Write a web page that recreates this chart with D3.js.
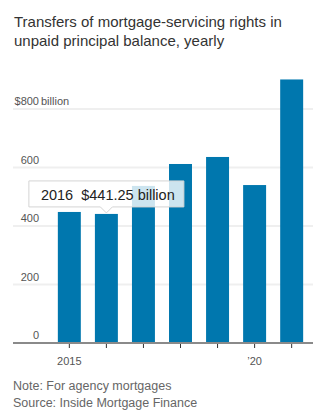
<!DOCTYPE html>
<html>
<head>
<meta charset="utf-8">
<script src="https://cdn.jsdelivr.net/npm/d3@7"></script>
<style>
  body { margin: 0; background: #fff; }
  svg { display: block; }
</style>
</head>
<body>
<div id="chart"></div>
<script>
// yearly transfers of MSRs, unpaid principal balance in $ billions
var years = [2015, 2016, 2017, 2018, 2019, 2020, 2021];
var balances = [448, 441.25, 537, 612, 636, 540, 901];
var yTicks = [0, 200, 400, 600, 800];
var xTickLabels = { 2015: "2015", 2020: "\u201920" };
var titleLines = ["Transfers of mortgage-servicing rights in", "unpaid principal balance, yearly"];
var footLines = ["Note: For agency mortgages", "Source: Inside Mortgage Finance"];
var highlightYear = 2016;

var width = 326,
    height = 420;

var barColor = "#0077ae",
    gridColor = "#efefef",
    axisColor = "#8a8a8a",
    textFont = "'Liberation Sans', Arial, sans-serif";

var svg = d3.select("#chart").append("svg")
    .attr("width", width)
    .attr("height", height);

var x = d3.scaleBand()
    .domain(years)
    .range([50.8, 310.2])
    .paddingInner(0.38)
    .paddingOuter(0.19);

var y = d3.scaleLinear()
    .domain([0, 800])
    .range([343, 109]);

// title
svg.append("g").selectAll("text")
    .data(titleLines)
    .enter().append("text")
    .attr("x", 14)
    .attr("y", function(d, i) { return 27 + i * 19; })
    .attr("font-family", textFont)
    .attr("font-size", 15)
    .attr("fill", "#333")
    .text(function(d) { return d; });

// gridlines (0 gets the axis line instead)
var grid = svg.append("g");
grid.selectAll("line")
    .data(yTicks.filter(function(d) { return d > 0; }))
    .enter().append("line")
    .attr("x1", 13)
    .attr("x2", 313)
    .attr("y1", function(d) { return y(d); })
    .attr("y2", function(d) { return y(d); })
    .attr("stroke", gridColor)
    .attr("stroke-width", 2);

// y labels sit above their gridline, number right-aligned
svg.append("g").selectAll("text")
    .data(yTicks)
    .enter().append("text")
    .attr("x", 39)
    .attr("y", function(d) { return y(d) - 4; })
    .attr("font-family", textFont)
    .attr("font-size", 11)
    .attr("fill", "#555")
    .attr("text-anchor", "end")
    .text(function(d) { return d === 800 ? "$" + d : d; });

svg.append("text")
    .attr("x", 41)
    .attr("y", y(800) - 4)
    .attr("font-family", textFont)
    .attr("font-size", 11)
    .attr("fill", "#555")
    .text("billion");

// bars
svg.append("g").selectAll("rect")
    .data(years)
    .enter().append("rect")
    .attr("x", function(d) { return x(d); })
    .attr("width", x.bandwidth())
    .attr("y", function(d, i) { return y(balances[i]); })
    .attr("height", function(d, i) { return y(0) - y(balances[i]); })
    .attr("fill", barColor);

// x axis
svg.append("line")
    .attr("x1", 13)
    .attr("x2", 313)
    .attr("y1", y(0))
    .attr("y2", y(0))
    .attr("stroke", axisColor)
    .attr("stroke-width", 2);

var xAxis = svg.append("g")
    .attr("transform", "translate(0," + (y(0) + 1) + ")")
    .call(d3.axisBottom(x)
        .tickSize(4)
        .tickFormat(function(d) { return xTickLabels[d] || ""; }));
xAxis.select(".domain").remove();
xAxis.selectAll(".tick line").attr("stroke", "#333");
xAxis.selectAll(".tick text")
    .attr("font-family", textFont)
    .attr("font-size", 11)
    .attr("fill", "#555")
    .attr("dy", "1.3em");

// tooltip on the highlighted bar
var hi = years.indexOf(highlightYear);
var cx = x(highlightYear) + x.bandwidth() / 2,
    tipY = y(balances[hi]) - 1,
    boxW = 155,
    boxH = 26,
    boxBottom = tipY - 6;

var tip = svg.append("g");
tip.append("path")
    .attr("d", [
        "M", cx - boxW / 2, boxBottom - boxH,
        "H", cx + boxW / 2,
        "V", boxBottom,
        "H", cx + 6,
        "L", cx, tipY,
        "L", cx - 6, boxBottom,
        "H", cx - boxW / 2,
        "Z"].join(" "))
    .attr("fill", "#fff")
    .attr("fill-opacity", 0.8)
    .attr("stroke", "#d4d4d4")
    .attr("stroke-width", 1);

tip.append("text")
    .attr("x", cx - boxW / 2 + 12)
    .attr("y", boxBottom - 7)
    .attr("font-family", textFont)
    .attr("font-size", 14.5)
    .attr("fill", "#222")
    .attr("xml:space", "preserve")
    .text(highlightYear + "  $" + d3.format(".2f")(balances[hi]) + " billion");

// footnotes
svg.append("g").selectAll("text")
    .data(footLines)
    .enter().append("text")
    .attr("x", 13)
    .attr("y", function(d, i) { return 390 + i * 17; })
    .attr("font-family", textFont)
    .attr("font-size", 12.5)
    .attr("fill", "#666")
    .text(function(d) { return d; });
</script>
</body>
</html>
